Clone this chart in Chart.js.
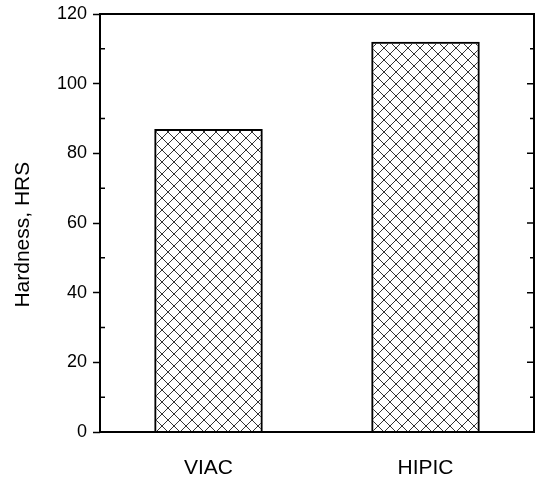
<!DOCTYPE html>
<html>
<head>
<meta charset="utf-8">
<script src="https://cdn.jsdelivr.net/npm/chart.js@4"></script>
<style>
  html, body { margin: 0; padding: 0; background: #fff; }
  #wrap { width: 540px; height: 477px; }
</style>
</head>
<body>
<div id="wrap"><canvas id="chart" width="540" height="477"></canvas></div>
<script>
'use strict';

var categories = ['VIAC', 'HIPIC'];
var hardness = [87, 112];
var yTicks = [0, 20, 40, 60, 80, 100, 120];
var yMinorTicks = [10, 30, 50, 70, 90, 110];

// cross hatch fill like the scanned figure
var makeHatch = function () {
    var c = document.createElement('canvas');
    c.width = 12;
    c.height = 12;
    var g = c.getContext('2d');
    g.strokeStyle = '#333';
    g.lineWidth = 1;
    g.beginPath();
    g.moveTo(0, 0); g.lineTo(12, 12);
    g.moveTo(12, 0); g.lineTo(0, 12);
    g.stroke();
    return g.createPattern(c, 'repeat');
};

// frame around the plot plus the inward ticks
var framePlugin = {
    id: 'frame',
    afterDatasetsDraw: function (chart) {
        var a = chart.chartArea;
        var ctx = chart.ctx;
        var y = chart.scales.y;
        ctx.save();
        ctx.strokeStyle = '#000';
        ctx.lineWidth = 2;
        ctx.strokeRect(a.left, a.top, a.right - a.left, a.bottom - a.top);
        ctx.lineWidth = 1.5;
        ctx.beginPath();
        yMinorTicks.forEach(function (v) {
            var p = y.getPixelForValue(v);
            ctx.moveTo(a.left, p); ctx.lineTo(a.left + 5, p);
            ctx.moveTo(a.right, p); ctx.lineTo(a.right - 4, p);
        });
        yTicks.forEach(function (v) {
            var p = y.getPixelForValue(v);
            ctx.moveTo(a.right, p); ctx.lineTo(a.right - 7, p);
        });
        ctx.stroke();
        ctx.restore();
    }
};

var ctx = document.getElementById('chart').getContext('2d');
new Chart(ctx, {
    type: 'bar',
    data: {
        labels: categories,
        datasets: [{
            data: hardness,
            backgroundColor: makeHatch(),
            borderColor: '#000',
            borderWidth: 2,
            categoryPercentage: 1,
            barPercentage: 0.5
        }]
    },
    options: {
        responsive: false,
        animation: false,
        layout: { padding: { top: 14, right: 6, left: 0, bottom: 0 } },
        plugins: { legend: { display: false }, tooltip: { enabled: false } },
        scales: {
            x: {
                grid: { display: false },
                border: { display: false },
                ticks: {
                    color: '#000',
                    padding: 16,
                    font: { family: 'Liberation Sans', size: 21 }
                },
                afterFit: function (s) { s.height = 45; }
            },
            y: {
                min: 0,
                max: 120,
                afterBuildTicks: function (s) {
                    s.ticks = yTicks.map(function (v) { return { value: v }; });
                },
                grid: {
                    drawOnChartArea: false,
                    tickLength: 7,
                    tickWidth: 1.5,
                    color: '#000'
                },
                border: { display: false },
                ticks: {
                    color: '#000',
                    padding: 6,
                    font: { family: 'Liberation Sans', size: 18 }
                },
                title: {
                    display: true,
                    text: 'Hardness, HRS    ',
                    color: '#000',
                    padding: { top: 11, bottom: 0 },
                    font: { family: 'Liberation Sans', size: 21 }
                },
                afterFit: function (s) {
                    s.width = 100;
                    s.paddingTop = 0;
                    s.paddingBottom = 0;
                }
            }
        }
    },
    plugins: [framePlugin]
});
</script>
</body>
</html>
